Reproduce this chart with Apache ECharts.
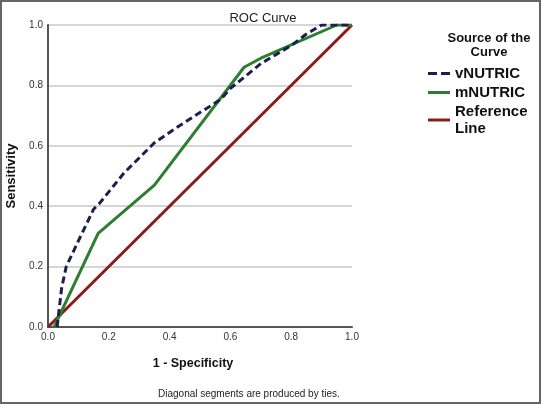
<!DOCTYPE html>
<html><head><meta charset="utf-8">
<script src="https://cdn.jsdelivr.net/npm/echarts@6/dist/echarts.min.js"></script>
<style>html,body{margin:0;padding:0;background:#fff}#c{width:541px;height:404px}</style>
</head><body><div id="c"></div>
<script>
const vNUTRIC = [[0.03,0],[0.045,0.13],[0.06,0.2],[0.1,0.285],[0.15,0.39],[0.17,0.41],[0.25,0.51],[0.35,0.61],[0.43,0.665],[0.5,0.71],[0.57,0.755],[0.6,0.79],[0.7,0.872],[0.8,0.932],[0.85,0.97],[0.9,1.0],[1,1]];
const mNUTRIC = [[0.02,0],[0.165,0.31],[0.35,0.47],[0.645,0.86],[0.7,0.89],[0.95,1],[1,1]];
const referenceLine = [[0,0],[1,1]];
const seriesNames = ['vNUTRIC','mNUTRIC','Reference\nLine'];
const chart = echarts.init(document.getElementById('c'));
const F = 'Liberation Sans, Arial, sans-serif';
chart.setOption({
  animation:false,
  title:{text:'ROC Curve',left:258,top:7,textAlign:'center',textStyle:{fontFamily:F,fontSize:13,fontWeight:'normal',color:'#222'}},
  grid:{left:48,right:189,top:25,bottom:77,containLabel:false,outerBoundsMode:'none'},
  xAxis:{type:'value',min:0,max:1,interval:0.2,name:'1 - Specificity',nameLocation:'middle',nameGap:30,
    nameTextStyle:{fontFamily:F,fontSize:12.5,fontWeight:'bold',color:'#111',padding:[0,14,0,0]},
    axisLine:{lineStyle:{color:'#555',width:2}},axisTick:{show:false},splitLine:{show:false},
    axisLabel:{fontFamily:F,fontSize:10,color:'#333',margin:5,formatter:v=>v.toFixed(1)}},
  yAxis:{type:'value',min:0,max:1,interval:0.2,name:'Sensitivity',nameLocation:'middle',nameGap:26,
    nameTextStyle:{fontFamily:F,fontSize:13,fontWeight:'bold',color:'#111'},
    axisLine:{show:true,lineStyle:{color:'#555',width:2}},axisTick:{show:false},
    splitLine:{lineStyle:{color:'#c8c8c8',width:1.5}},
    axisLabel:{fontFamily:F,fontSize:10,color:'#333',margin:5,formatter:v=>v.toFixed(1)}},
  legend:{orient:'vertical',left:428,top:65,padding:0,itemWidth:22,itemHeight:3,itemGap:2,
    textStyle:{fontFamily:F,fontSize:15,fontWeight:'bold',color:'#111',lineHeight:17},
    data:[
      {name:seriesNames[0],icon:'path://M0,0h9v3h-9zM13,0h9v3h-9z'},
      {name:seriesNames[1],icon:'rect'},
      {name:seriesNames[2],icon:'rect'}
    ]},
  graphic:[
    {type:'text',x:489,y:31,style:{text:'Source of the\nCurve',align:'center',fontFamily:F,fontSize:13,fontWeight:'bold',fill:'#111',lineHeight:14}},
    {type:'text',left:158,top:389,style:{text:'Diagonal segments are produced by ties.',fontFamily:F,fontSize:10,fill:'#222'}},
    {type:'rect',shape:{x:1,y:1,width:539,height:402},style:{fill:'none',stroke:'#666',lineWidth:2},silent:true}
  ],
  series:[
    {name:seriesNames[0],type:'line',data:vNUTRIC,symbol:'none',z:4,lineStyle:{color:'#1b1f4e',width:3,type:[7,4]},itemStyle:{color:'#1b1f4e'}},
    {name:seriesNames[1],type:'line',data:mNUTRIC,symbol:'none',z:3,lineStyle:{color:'#2e7d32',width:3},itemStyle:{color:'#2e7d32'}},
    {name:seriesNames[2],type:'line',data:referenceLine,symbol:'none',z:2,lineStyle:{color:'#8b1a1a',width:3},itemStyle:{color:'#8b1a1a'}}
  ]
});
</script></body></html>
